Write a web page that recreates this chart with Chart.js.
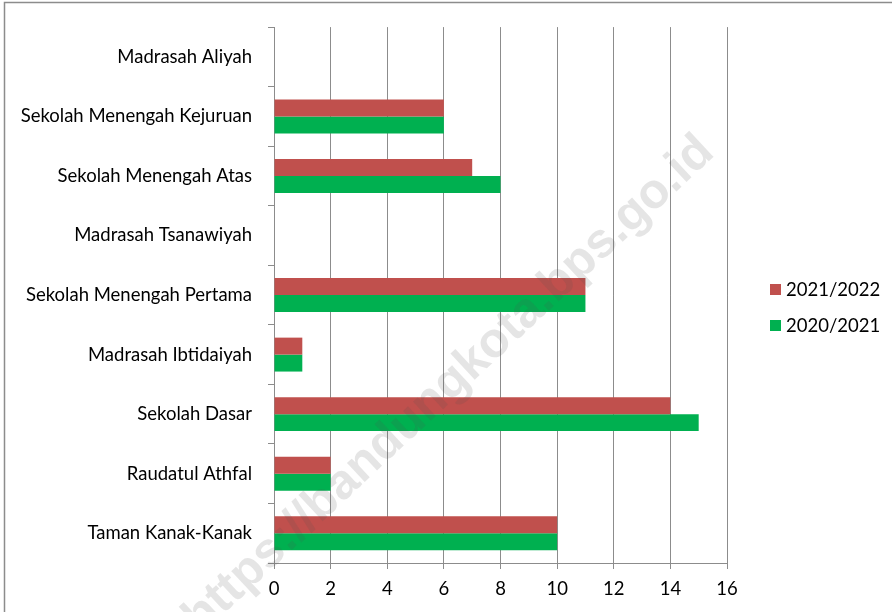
<!DOCTYPE html>
<html>
<head>
<meta charset="utf-8">
<script src="https://cdn.jsdelivr.net/npm/chart.js@4.4.1/dist/chart.umd.min.js"></script>
<style>
    html, body { margin: 0; padding: 0; background: #fff; }
    #wrap { width: 892px; height: 612px; }
</style>
</head>
<body>
<div id="wrap"><canvas id="grafik" width="892" height="612"></canvas></div>
<script>
// data
const jenjang = [
    'Madrasah Aliyah',
    'Sekolah Menengah Kejuruan',
    'Sekolah Menengah Atas',
    'Madrasah Tsanawiyah',
    'Sekolah Menengah Pertama',
    'Madrasah Ibtidaiyah',
    'Sekolah Dasar',
    'Raudatul Athfal',
    'Taman Kanak-Kanak'
];
const tahun2122 = [0, 6, 7, 0, 11, 1, 14, 2, 10];
const tahun2021 = [0, 6, 8, 0, 11, 1, 15, 2, 10];
const labelSeri = ['2021/2022', '2020/2021'];
const warnaSeri = ['#C0504D', '#00B050'];

const fontUtama = 'Lato';
const abu = '#8c8c8c';

// background, frame, legend and watermark
const latarPlugin = {
    id: 'latar',
    beforeDraw: (chart) => {
        const ctx = chart.ctx;
        ctx.save();
        ctx.fillStyle = '#fff';
        ctx.fillRect(0, 0, chart.width, chart.height);
        ctx.strokeStyle = abu;
        ctx.lineWidth = 1.5;
        ctx.beginPath();
        ctx.moveTo(4.5, chart.height);
        ctx.lineTo(4.5, 2.5);
        ctx.lineTo(chart.width, 2.5);
        ctx.stroke();
        ctx.restore();
    },
    afterDraw: (chart) => {
        const ctx = chart.ctx;
        // legenda manual
        ctx.save();
        ctx.font = '18.5px ' + fontUtama;
        ctx.textBaseline = 'middle';
        chart.data.datasets.forEach((ds, i) => {
            const y = 284 + i * 36;
            ctx.fillStyle = ds.backgroundColor;
            ctx.fillRect(770, y, 11, 11);
            ctx.fillStyle = '#000';
            ctx.fillText(ds.label, 786, y + 6);
        });
        ctx.restore();

        // watermark
        ctx.save();
        const teks = 'https://bandungkota.bps.go.id';
        ctx.font = 'bold 50px "Liberation Sans"';
        const lebar = ctx.measureText(teks).width;
        const skala = 705 / lebar;
        ctx.translate(449, 385);
        ctx.rotate(-43 * Math.PI / 180);
        ctx.scale(skala, skala);
        ctx.fillStyle = 'rgba(80, 80, 80, 0.15)';
        ctx.textAlign = 'center';
        ctx.textBaseline = 'middle';
        ctx.fillText(teks, 0, 0);
        ctx.restore();
    }
};

new Chart(document.getElementById('grafik'), {
    type: 'bar',
    data: {
        labels: jenjang,
        datasets: [
            {
                label: labelSeri[0],
                data: tahun2122,
                backgroundColor: warnaSeri[0],
                categoryPercentage: 0.57,
                barPercentage: 1.0
            },
            {
                label: labelSeri[1],
                data: tahun2021,
                backgroundColor: warnaSeri[1],
                categoryPercentage: 0.57,
                barPercentage: 1.0
            }
        ]
    },
    options: {
        indexAxis: 'y',
        responsive: false,
        animation: false,
        layout: {
            padding: { left: 0, top: 25, right: 165, bottom: 0 }
        },
        plugins: {
            legend: { display: false },
            tooltip: { enabled: false }
        },
        scales: {
            x: {
                min: 0,
                max: 16,
                ticks: {
                    stepSize: 2,
                    color: '#000',
                    padding: 9,
                    font: { family: fontUtama, size: 18.5 }
                },
                grid: {
                    color: abu,
                    lineWidth: 1,
                    tickLength: 6
                },
                border: { color: abu, width: 1 },
                afterFit: (skala) => { skala.height = 49; }
            },
            y: {
                ticks: {
                    color: '#000',
                    padding: 16,
                    font: { family: fontUtama, size: 18.5 }
                },
                grid: {
                    drawOnChartArea: false,
                    color: abu,
                    tickLength: 6,
                    offset: true
                },
                border: { color: abu, width: 1 },
                afterFit: (skala) => { skala.width = 274; }
            }
        }
    },
    plugins: [latarPlugin]
});
</script>
</body>
</html>
